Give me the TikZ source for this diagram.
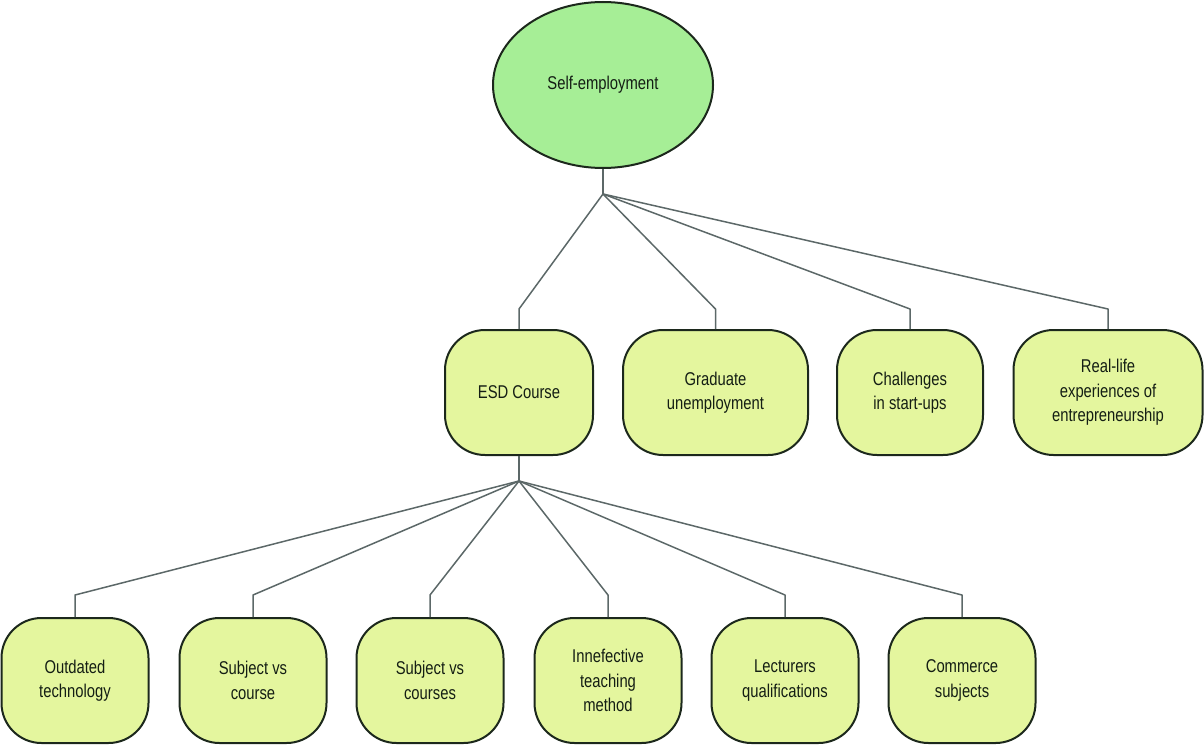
\documentclass[tikz,border=0pt]{standalone}
\usepackage{fontspec}
\setmainfont{Liberation Sans}[FakeStretch=0.8]
\usetikzlibrary{shapes.geometric,calc}
\definecolor{rootfill}{RGB}{166,238,150}
\definecolor{boxfill}{RGB}{228,246,158}
\definecolor{edgeline}{RGB}{28,40,28}
\definecolor{linkline}{RGB}{92,104,104}
\definecolor{labeltext}{RGB}{20,30,20}
\begin{document}
\begin{tikzpicture}[x=1pt,y=-1pt,
  lbl/.style={font=\fontsize{18.5}{24.5}\selectfont, text=labeltext, align=center},
  rootnode/.style={lbl, ellipse, draw=edgeline, line width=2pt, fill=rootfill,
    minimum width=220pt, minimum height=166pt, inner sep=0pt},
  topic/.style={lbl, rectangle, rounded corners=40pt, draw=edgeline, line width=2pt,
    fill=boxfill, minimum height=125pt, inner sep=0pt},
  link/.style={draw=linkline, line width=1.5pt, line join=round}
]
\useasboundingbox (0,0) rectangle (1204,744);

% root
\node[rootnode] (root) at (603,85) {Self-employment};

% second level
\node[topic, minimum width=148pt] (esd)  at (519,392.5) {ESD Course};
\node[topic, minimum width=185pt] (grad) at (715.5,392.5) {Graduate\\unemployment};
\node[topic, minimum width=146pt] (chal) at (910,392.5) {Challenges\\in start-ups};
\node[topic, minimum width=189pt] (real) at (1108,392.5) {Real-life\\experiences of\\entrepreneurship};

% third level
\node[topic, minimum width=147pt] (outd) at (75,680.5) {Outdated\\technology};
\node[topic, minimum width=147pt] (subj) at (253,680.5) {Subject vs\\course};
\node[topic, minimum width=147pt] (subs) at (430,680.5) {Subject vs\\courses};
\node[topic, minimum width=147pt] (inne) at (608,680.5) {Innefective\\teaching\\method};
\node[topic, minimum width=147pt] (lect) at (785,680.5) {Lecturers\\qualifications};
\node[topic, minimum width=147pt] (comm) at (962,680.5) {Commerce\\subjects};

% junction points
\coordinate (j1) at ($(root.south)+(0,25)$);
\coordinate (j2) at ($(esd.south)+(0,25)$);

% connectors from the root
\draw[link] (root.south) -- (j1);
\foreach \n in {esd,grad,chal,real}
  \draw[link] (j1) -- ($(\n.north)+(0,-20)$) -- (\n.north);

% connectors from ESD Course
\draw[link] (esd.south) -- (j2);
\foreach \n in {outd,subj,subs,inne,lect,comm}
  \draw[link] (j2) -- ($(\n.north)+(0,-22)$) -- (\n.north);
\end{tikzpicture}
\end{document}
